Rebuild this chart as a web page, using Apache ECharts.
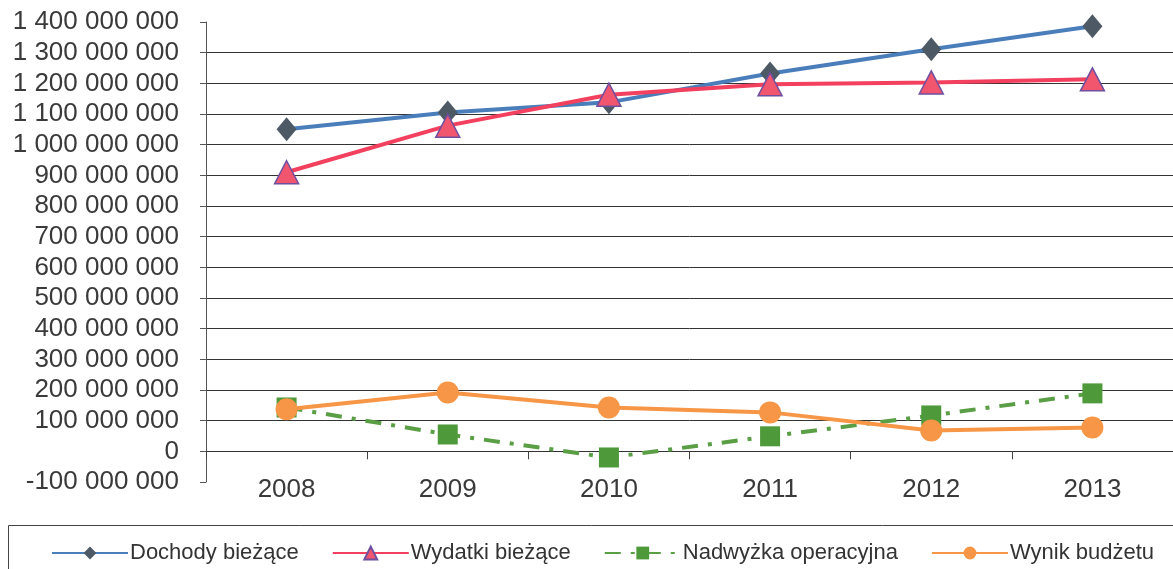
<!DOCTYPE html>
<html>
<head>
<meta charset="utf-8">
<script src="https://cdn.jsdelivr.net/npm/echarts@6/dist/echarts.min.js"></script>
<style>
  html, body { margin: 0; padding: 0; background: #fff; }
  #main { width: 1173px; height: 569px; }
</style>
</head>
<body>
<div id="main"></div>
<script>
// dane
const years = ['2008', '2009', '2010', '2011', '2012', '2013'];
const dochody = [1050000000, 1105000000, 1138000000, 1232000000, 1311000000, 1386000000];
const wydatki = [910000000, 1062000000, 1163000000, 1197000000, 1203000000, 1213000000];
const nadwyzka = [143000000, 55000000, -20000000, 49000000, 117000000, 189000000];
const wynik = [137000000, 192000000, 143000000, 127000000, 68000000, 78000000];

const font = 'Liberation Sans, Arial, sans-serif';

function fmt(v) {
  const s = String(Math.abs(v)).replace(/\B(?=(\d{3})+(?!\d))/g, ' ');
  return (v < 0 ? '-' : '') + s;
}

const chart = echarts.init(document.getElementById('main'));
chart.setOption({
  animation: false,
  textStyle: { fontFamily: font },
  grid: { left: 206, right: -2, top: 22, bottom: 87, containLabel: false },
  xAxis: {
    type: 'category',
    data: years,
    boundaryGap: true,
    axisLine: { onZero: true, lineStyle: { color: '#333', width: 1 } },
    axisTick: { show: true, length: 8, lineStyle: { color: '#444' } },
    axisLabel: { margin: -5, fontSize: 26, color: '#3a3a3a', fontFamily: font }
  },
  yAxis: {
    type: 'value',
    min: -100000000,
    max: 1400000000,
    interval: 100000000,
    axisLine: { show: true, lineStyle: { color: '#555', width: 1 } },
    axisTick: { show: true, length: 6, lineStyle: { color: '#555' } },
    axisLabel: { margin: 27, fontSize: 26, color: '#3a3a3a', fontFamily: font, formatter: fmt },
    splitLine: { show: true, showMinLine: false, showMaxLine: false, lineStyle: { color: '#333', width: 1 } }
  },
  legend: {
    left: 46,
    top: 537,
    width: 1160,
    itemWidth: 76,
    itemHeight: 16,
    itemGap: 33,
    textStyle: { fontSize: 22, color: '#333', fontFamily: font, padding: [0, 0, 0, -3] }
  },
  graphic: [{
    type: 'rect',
    shape: { x: 8.5, y: 525.5, width: 1180, height: 60 },
    style: { fill: 'none', stroke: '#444', lineWidth: 1 },
    silent: true
  }],
  series: [
    {
      name: 'Dochody bieżące',
      type: 'line',
      data: dochody,
      lineStyle: { color: '#4A7EBB', width: 4 },
      itemStyle: { color: '#4D5A66' },
      symbol: 'diamond',
      symbolSize: [20, 24],
      z: 3
    },
    {
      name: 'Wydatki bieżące',
      type: 'line',
      data: wydatki,
      lineStyle: { color: '#F2405E', width: 4 },
      itemStyle: { color: '#F2566F', borderColor: '#6F4FA0', borderWidth: 1.5 },
      symbol: 'triangle',
      symbolSize: [24, 23],
      z: 4
    },
    {
      name: 'Nadwyżka operacyjna',
      type: 'line',
      data: nadwyzka,
      lineStyle: { color: '#5A9E45', width: 4, type: [16, 10, 4, 10] },
      itemStyle: { color: '#4E9A3A' },
      symbol: 'rect',
      symbolSize: [20, 20],
      z: 3
    },
    {
      name: 'Wynik budżetu',
      type: 'line',
      data: wynik,
      lineStyle: { color: '#F79646', width: 4 },
      itemStyle: { color: '#F79646' },
      symbol: 'circle',
      symbolSize: 22,
      z: 4
    }
  ]
});
</script>
</body>
</html>
